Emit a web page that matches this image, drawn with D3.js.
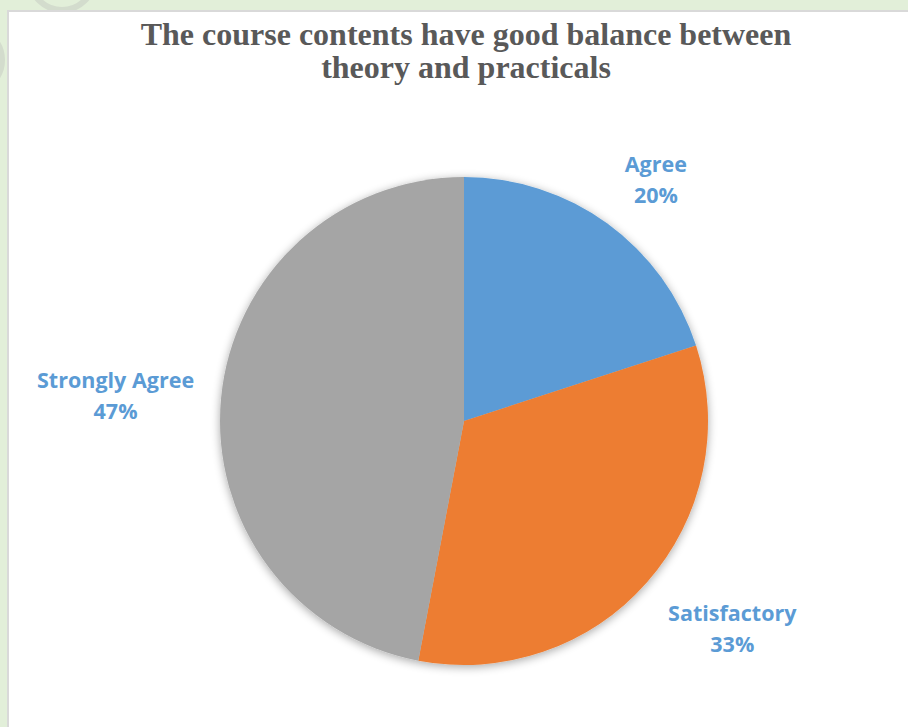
<!DOCTYPE html>
<html><head><meta charset="utf-8">
<script src="https://cdn.jsdelivr.net/npm/d3@7"></script>
<style>html,body{margin:0;padding:0;background:#e2efd9;overflow:hidden}</style>
</head><body>
<svg id="c" width="908" height="727"></svg>
<script>
const categories = ["Agree", "Satisfactory", "Strongly Agree"];
const values = [20, 33, 47];
const colors = ["#5b9bd5", "#ed7d31", "#a5a5a5"];
const titleLines = ["The course contents have good balance between", "theory and practicals"];

const svg = d3.select("#c");
const W = 908, H = 727;
// page decoration
svg.append("rect").attr("width", W).attr("height", H).attr("fill", "#e2efd9");
svg.append("circle").attr("cx", 62).attr("cy", -22).attr("r", 32).attr("fill", "none").attr("stroke", "#d3dccd").attr("stroke-width", 6);
svg.append("circle").attr("cx", -30).attr("cy", 60).attr("r", 32).attr("fill", "none").attr("stroke", "#d3dccd").attr("stroke-width", 6);
svg.append("rect").attr("x", 8).attr("y", 11).attr("width", W + 20).attr("height", H + 20)
  .attr("fill", "#fff").attr("stroke", "#d9d9d9").attr("stroke-width", 2);

const defs = svg.append("defs");
const f = defs.append("filter").attr("id", "sh").attr("x", "-20%").attr("y", "-20%").attr("width", "140%").attr("height", "140%");
f.append("feGaussianBlur").attr("in", "SourceAlpha").attr("stdDeviation", 5).attr("result", "b");
f.append("feOffset").attr("in", "b").attr("dx", 0).attr("dy", 2).attr("result", "o");
f.append("feComponentTransfer").attr("in", "o").attr("result", "o2")
  .append("feFuncA").attr("type", "linear").attr("slope", 0.35);
const m = f.append("feMerge");
m.append("feMergeNode").attr("in", "o2");
m.append("feMergeNode").attr("in", "SourceGraphic");

// title (two lines as separate texts)
titleLines.forEach((t, i) => svg.append("text")
  .attr("x", 466).attr("y", 45 + i * 33).attr("text-anchor", "middle")
  .attr("font-family", "'Liberation Serif', 'Times New Roman', serif").attr("font-weight", "bold")
  .attr("font-size", 32).attr("fill", "#595959").text(t));

const cx = 464, cy = 421, R = 244;
const data = categories.map((c, i) => ({ cat: c, val: values[i], color: colors[i] }));
const pie = d3.pie().value(d => d.val).sort(null);
const arc = d3.arc().innerRadius(0).outerRadius(R);
const g = svg.append("g").attr("transform", `translate(${cx},${cy})`);
const arcs = pie(data);
g.append("g").attr("filter", "url(#sh)").selectAll("path").data(arcs).join("path")
  .attr("d", arc).attr("fill", d => d.data.color);

// labels outside
const labelRadius = [306, 339, 349];
const labelNudge = [[12, 5], [14, -18], [-1, 6]];
arcs.forEach((a, i) => {
  const la = d3.arc().innerRadius(labelRadius[i]).outerRadius(labelRadius[i]);
  let [x, y] = la.centroid(a);
  x += labelNudge[i][0]; y += labelNudge[i][1];
  const t = g.append("text").attr("text-anchor", "middle")
    .attr("font-family", "'Open Sans', 'Noto Sans', sans-serif").attr("font-weight", "bold")
    .attr("font-size", 21.5).attr("fill", "#5b9bd5");
  t.append("tspan").attr("x", x).attr("y", y - 6).text(a.data.cat);
  t.append("tspan").attr("x", x).attr("y", y + 25).text(Math.round(a.data.val) + "%");
});
</script>
</body></html>
